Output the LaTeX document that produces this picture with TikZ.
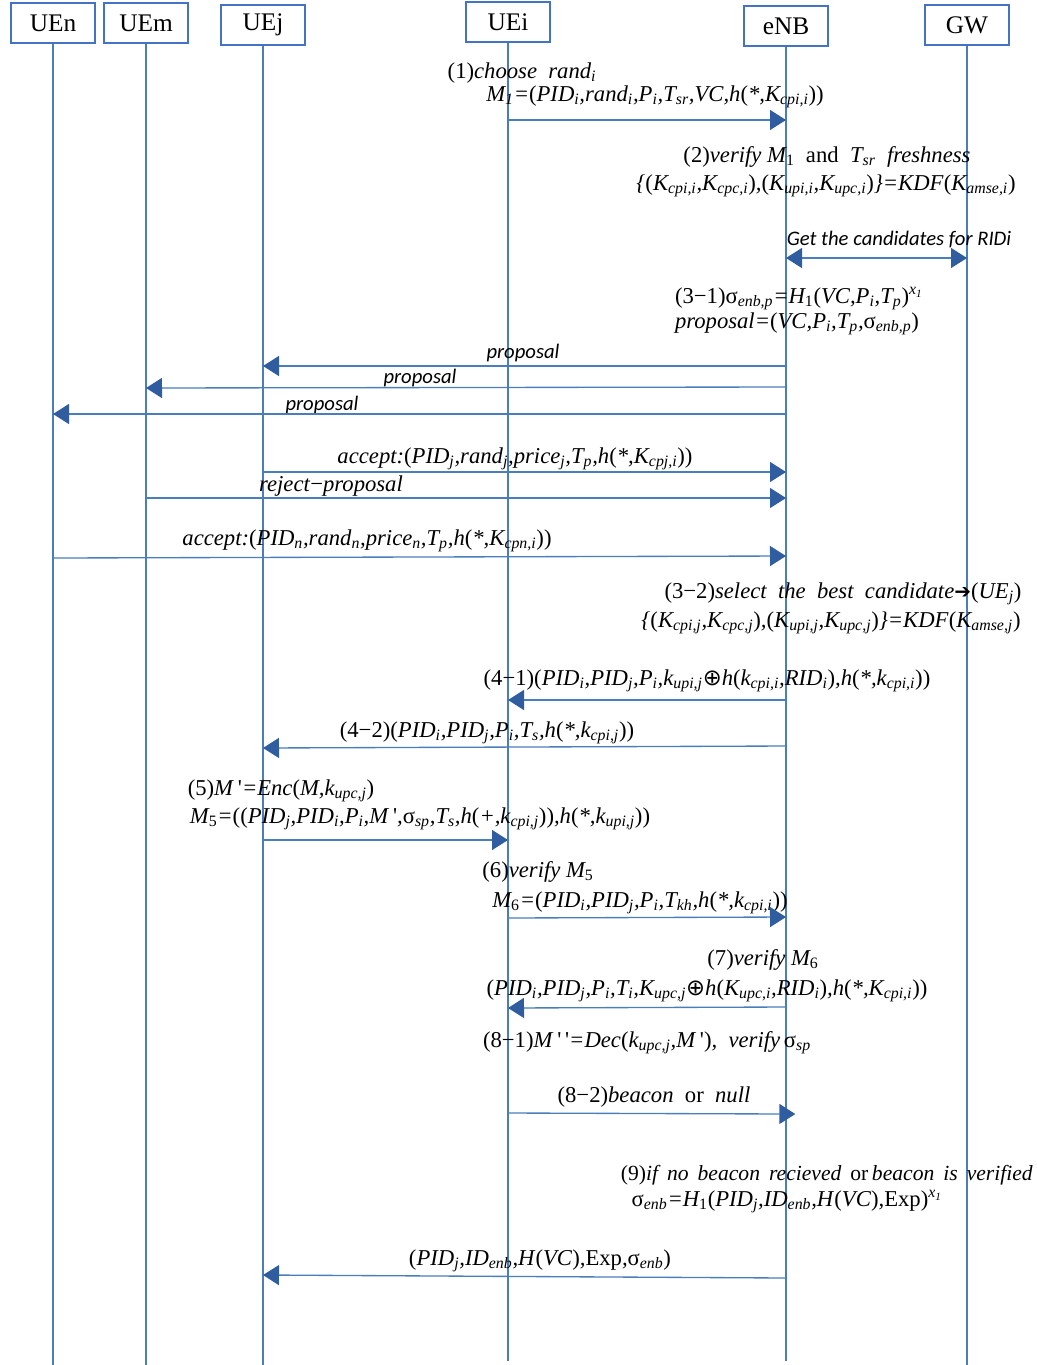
\documentclass[tikz,border=0pt]{standalone}
\usepackage{fontspec}
\setmainfont{Liberation Serif}
\newfontfamily\calibfont{Carlito}
\newfontfamily\dvsfont{DejaVu Sans}
\usetikzlibrary{arrows.meta}
\definecolor{boxblue}{RGB}{68,114,196}
\definecolor{lineblue}{RGB}{74,126,187}
\definecolor{tipblue}{RGB}{47,93,160}
\newcommand\Lo[1]{\textsubscript{#1}}
\newcommand\Hi[1]{\textsuperscript{#1}}
\newcommand\Up[1]{\textup{#1}}
\newcommand\Lp{\textup{(}}
\newcommand\Rp{\textup{)}}
\newcommand\sg{\textup{σ}}
\newcommand\xor{{\dvsfont\upshape ⊕}}
\newcommand\mns{\textup{−}}
\newcommand\pr{\textup{\,\textquotesingle}}
\tikzset{
  actor/.style={draw=boxblue, line width=1pt, minimum width=63pt, minimum height=30pt,
    inner sep=0pt, font=\fontsize{19}{22}\selectfont},
  life/.style={draw=lineblue, line width=0.9pt},
  msg/.style={draw=lineblue, line width=1pt, -{Triangle[length=12pt,width=15pt,color=tipblue]}},
  msgboth/.style={draw=lineblue, line width=1pt, {Triangle[length=12pt,width=15pt,color=tipblue]}-{Triangle[length=12pt,width=15pt,color=tipblue]}},
  txt/.style={anchor=base, inner sep=0pt, font=\fontsize{17}{20}\selectfont\itshape},
  ctxt/.style={anchor=base, inner sep=0pt, font=\fontsize{15.5}{18}\selectfont\calibfont\itshape}
}
\begin{document}
\begin{tikzpicture}[x=0.75pt,y=-0.75pt]
\useasboundingbox (0,0) rectangle (1037,1365);
% actors
\node[actor] (UEn) at (53,23) {UEn};
\node[actor] (UEm) at (146,23) {UEm};
\node[actor] (UEj) at (263,25) {UEj};
\node[actor] (UEi) at (508,22) {UEi};
\node[actor] (eNB) at (786,26) {eNB};
\node[actor] (GW) at (967,25) {GW};
% lifelines
\draw[life] (UEn.south) -- (UEn |- 0,1365);
\draw[life] (UEm.south) -- (UEm |- 0,1365);
\draw[life] (UEj.south) -- (UEj |- 0,1365);
\draw[life] (UEi.south) -- (UEi |- 0,1361);
\draw[life] (eNB.south) -- (eNB |- 0,1361);
\draw[life] (GW.south) -- (GW |- 0,1365);
% (1)
\node[txt] (t1a) at (522,78) {\Up{(1)}choose\ \ rand\Lo{i}};
\node[txt] (t1b) at (655,101) {M\Lo{1}=\Lp PID\Lo{i},rand\Lo{i},P\Lo{i},T\Lo{sr},VC,h\Lp*,K\Lo{cpi,i}\Rp\Rp};
\draw[msg] (UEi |- 0,120) -- (eNB |- 0,120);
% (2)
\node[txt] (t2a) at (827,162) {\Up{(2)}verify M\Lo{\Up{1}}\ \ \Up{and}\ \ T\Lo{sr}\ \ freshness};
\node[txt] (t2b) at (826,190) {\{\Lp K\Lo{cpi,i},K\Lo{cpc,i}\Rp,\Lp K\Lo{upi,i},K\Lo{upc,i}\Rp\}=KDF\Lp K\Lo{amse,i}\Rp};
\node[ctxt] (t3) at (899,245) {Get the candidates for RIDi};
\draw[msgboth] (eNB |- 0,258) -- (GW |- 0,258);
% (3-1)
\node[txt] (t4a) at (799,303) {\Up{(3\mns1)}\sg\Lo{enb,p}=H\Lo{\Up{1}}\Lp VC,P\Lo{i},T\Lo{p}\Rp\Hi{x\Lo{1}}};
\node[txt] (t4b) at (797,328) {proposal=\Lp VC,P\Lo{i},T\Lo{p},\sg\Lo{enb,p}\Rp};
% proposals
\node[ctxt] (p1) at (523,358) {proposal};
\draw[msg] (eNB |- 0,366) -- (UEj |- 0,366);
\node[ctxt] (p2) at (420,383) {proposal};
\draw[msg] (eNB |- 0,387) -- (UEm |- 0,388);
\node[ctxt] (p3) at (322,410) {proposal};
\draw[msg] (eNB |- 0,414) -- (UEn |- 0,414);
% accept / reject
\node[txt] (t6) at (515,463) {accept:\Lp PID\Lo{j},rand\Lo{j},price\Lo{j},T\Lo{p},h\Lp*,K\Lo{cpj,i}\Rp\Rp};
\draw[msg] (UEj |- 0,472) -- (eNB |- 0,472);
\node[txt] (t7) at (331,491) {reject\mns proposal};
\draw[msg] (UEm |- 0,498) -- (eNB |- 0,498);
\node[txt] (t8) at (367,545) {accept:\Lp PID\Lo{n},rand\Lo{n},price\Lo{n},T\Lo{p},h\Lp*,K\Lo{cpn,i}\Rp\Rp};
\draw[msg] (UEn |- 0,558) -- (eNB |- 0,556);
% (3-2)
\node[txt] (t9a) at (843,598) {\Up{(3\mns2)}select\ \ the\ \ best\ \ candidate{\dvsfont\upshape\fontsize{15}{17}\selectfont ➔}\Lp UE\Lo{j}\Rp};
\node[txt] (t9b) at (831,627) {\{\Lp K\Lo{cpi,j},K\Lo{cpc,j}\Rp,\Lp K\Lo{upi,j},K\Lo{upc,j}\Rp\}=KDF\Lp K\Lo{amse,j}\Rp};
% (4-1)
\node[txt] (t10) at (707,685) {\Up{(4\mns1)}\Lp PID\Lo{i},PID\Lo{j},P\Lo{i},k\Lo{upi,j}\xor h\Lp k\Lo{cpi,i},RID\Lo{i}\Rp,h\Lp*,k\Lo{cpi,i}\Rp\Rp};
\draw[msg] (eNB |- 0,700) -- (UEi |- 0,700);
% (4-2)
\node[txt] (t11) at (487,737) {\Up{(4\mns2)}\Lp PID\Lo{i},PID\Lo{j},P\Lo{i},T\Lo{s},h\Lp*,k\Lo{cpi,j}\Rp\Rp};
\draw[msg] (eNB |- 0,746) -- (UEj |- 0,748);
% (5)
\node[txt] (t12a) at (281,795) {\Up{(5)}M\pr=Enc\Lp M,k\Lo{upc,j}\Rp};
\node[txt] (t12b) at (420,823) {M\Lo{\Up{5}}=\Lp\Lp PID\Lo{j},PID\Lo{i},P\Lo{i},M\pr,\sg\Lo{sp},T\Lo{s},h\Lp+,k\Lo{cpi,j}\Rp\Rp,h\Lp*,k\Lo{upi,j}\Rp\Rp};
\draw[msg] (UEj |- 0,840) -- (UEi |- 0,840);
% (6)
\node[txt] (t13a) at (538,877) {\Up{(6)}verify M\Lo{\Up{5}}};
\node[txt] (t13b) at (640,907) {M\Lo{\Up{6}}=\Lp PID\Lo{i},PID\Lo{j},P\Lo{i},T\Lo{kh},h\Lp*,k\Lo{cpi,i}\Rp\Rp};
\draw[msg] (UEi |- 0,918) -- (eNB |- 0,917);
% (7)
\node[txt] (t14a) at (763,965) {\Up{(7)}verify M\Lo{\Up{6}}};
\node[txt] (t14b) at (707,995) {\Lp PID\Lo{i},PID\Lo{j},P\Lo{i},T\Lo{i},K\Lo{upc,j}\xor h\Lp K\Lo{upc,i},RID\Lo{i}\Rp,h\Lp*,K\Lo{cpi,i}\Rp\Rp};
\draw[msg] (eNB |- 0,1007) -- (UEi |- 0,1008);
% (8-1)
\node[txt] (t15) at (647,1047) {\Up{(8\mns1)}M\pr\pr=Dec\Lp k\Lo{upc,j},M\pr\Rp,\ \ verify\,\sg\Lo{sp}};
% (8-2)
\node[txt] (t16) at (654,1102) {\Up{(8\mns2)}beacon\ \ \Up{or}\ \ null};
\draw[msg, shorten >=-7pt] (UEi |- 0,1113) -- (eNB |- 0,1114);
% (9)
\node[txt, anchor=base east, font=\fontsize{16.2}{19}\selectfont\itshape] (t17a) at (1033,1180) {\Up{(9)}if\ \,no\ \,beacon\ \,recieved\ \,\Up{or}\,beacon\ \,is\ \,verified};
\node[txt] (t17b) at (787,1206) {\sg\Lo{enb}=H\Lo{\Up{1}}\Lp PID\Lo{j},ID\Lo{enb},H\Lp VC\Rp,\Up{Exp}\Rp\Hi{x\Lo{1}}};
\node[txt] (t18) at (540,1265) {\Lp PID\Lo{j},ID\Lo{enb},H\Lp VC\Rp,\Up{Exp},\sg\Lo{enb}\Rp};
\draw[msg] (eNB |- 0,1278) -- (UEj |- 0,1275);
\end{tikzpicture}
\end{document}
